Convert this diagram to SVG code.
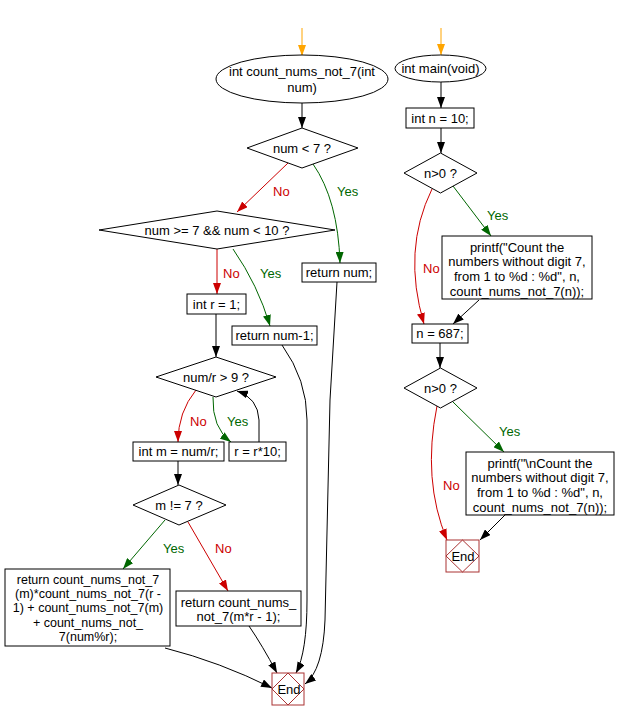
<svg xmlns="http://www.w3.org/2000/svg" width="617" height="721" viewBox="0 0 617 721">
<style>
text{font-family:"Liberation Sans",Arial,sans-serif;font-size:13px;fill:#000}
.n{fill:#fff;stroke:#000;stroke-width:1}
.c{text-anchor:middle}
.s{font-size:12.5px}
.e{fill:#fff;stroke:#a33;stroke-width:1}
.ed{fill:none;stroke:#a33;stroke-width:1}
.k{fill:none;stroke:#000;stroke-width:1;marker-end:url(#ak)}
.r{fill:none;stroke:#c00;stroke-width:1;marker-end:url(#ar)}
.g{fill:none;stroke:#060;stroke-width:1;marker-end:url(#ag)}
.o{fill:none;stroke:#ffa500;stroke-width:1;marker-end:url(#ao)}
.lr{fill:#c00}
.lg{fill:#060}
</style>
<defs>
<marker id="ak" markerUnits="userSpaceOnUse" markerWidth="11" markerHeight="8" refX="11" refY="4" orient="auto"><path d="M0,0 L11,4 L0,8 z" fill="#000"/></marker>
<marker id="ar" markerUnits="userSpaceOnUse" markerWidth="11" markerHeight="8" refX="11" refY="4" orient="auto"><path d="M0,0 L11,4 L0,8 z" fill="#c00"/></marker>
<marker id="ag" markerUnits="userSpaceOnUse" markerWidth="11" markerHeight="8" refX="11" refY="4" orient="auto"><path d="M0,0 L11,4 L0,8 z" fill="#060"/></marker>
<marker id="ao" markerUnits="userSpaceOnUse" markerWidth="11" markerHeight="8" refX="11" refY="4" orient="auto"><path d="M0,0 L11,4 L0,8 z" fill="#ffa500"/></marker>
</defs>

<g id="connectors">
<path class="o" d="M302,28 L302,56"/>
<path class="k" d="M302,103 L302,128"/>
<path class="r" d="M288,163 L237,212"/>
<path class="g" d="M313,164 Q338,200 340,263"/>
<path class="r" d="M217,249 L217,294"/>
<path class="g" d="M233,249 Q258,285 270,326"/>
<path class="k" d="M216,314 L216,357"/>
<path class="r" d="M196,390 Q178,412 178,442"/>
<path class="g" d="M213,397 Q212,428 231,442"/>
<path class="k" d="M259,442 L259,420 Q258,398 237,391"/>
<path class="k" d="M178,461 L178,485"/>
<path class="g" d="M165,520 L123,569"/>
<path class="r" d="M188,522 L228,591"/>
<path class="k" d="M165,648 Q220,662 272,688"/>
<path class="k" d="M249,626 Q262,645 277,673"/>
<path class="k" d="M282,345 Q307,380 307,420 L307,600 Q307,652 296,673"/>
<path class="k" d="M337,282 L330,400 L325,620 Q323,670 305,684"/>

<path class="o" d="M441,28 L441,55"/>
<path class="k" d="M441,82 L441,108"/>
<path class="k" d="M441,128 L441,153"/>
<path class="g" d="M453,186 L491,236"/>
<path class="r" d="M432,189 Q402,250 424,324"/>
<path class="k" d="M479,300 L453,324"/>
<path class="k" d="M440,343 L440,368"/>
<path class="g" d="M453,402 L504,452"/>
<path class="r" d="M437,406 Q422,480 447,540"/>
<path class="k" d="M505,515 L480,540"/>

<text class="lr" x="273" y="196">No</text>
<text class="lg" x="337" y="196">Yes</text>
<text class="lr" x="223" y="278">No</text>
<text class="lg" x="260" y="278">Yes</text>
<text class="lr" x="190" y="426">No</text>
<text class="lg" x="227" y="426">Yes</text>
<text class="lg" x="163" y="553">Yes</text>
<text class="lr" x="215" y="553">No</text>
<text class="lg" x="487" y="220">Yes</text>
<text class="lr" x="423" y="273">No</text>
<text class="lg" x="499" y="436">Yes</text>
<text class="lr" x="443" y="490">No</text>
</g>

<g id="start1">
<ellipse class="n" cx="302" cy="79" rx="86" ry="24"/>
<text class="c" x="302" y="76">int count_nums_not_7(int</text>
<text class="c" x="302" y="92">num)</text>
</g>
<g id="cond1">
<polygon class="n" points="302,128 358,148 302,168 247,148"/>
<text class="c" x="302" y="153">num &lt; 7 ?</text>
</g>
<g id="cond2">
<polygon class="n" points="217,211 335,230 217,249 99,230"/>
<text class="c" x="217" y="235">num &gt;= 7 &amp;&amp; num &lt; 10 ?</text>
</g>
<g id="retnum">
<rect class="n" x="302" y="263" width="74" height="19"/>
<text class="c" x="339" y="277">return num;</text>
</g>
<g id="r1">
<rect class="n" x="187" y="294" width="59" height="20"/>
<text class="c" x="216.5" y="309">int r = 1;</text>
</g>
<g id="retnum1">
<rect class="n" x="232" y="326" width="85" height="19"/>
<text class="c" x="274.5" y="340">return num-1;</text>
</g>
<g id="cond3">
<polygon class="n" points="216,357 276,377 216,397 156,377"/>
<text class="c" x="216" y="382">num/r &gt; 9 ?</text>
</g>
<g id="m">
<rect class="n" x="133" y="442" width="91" height="19"/>
<text class="c" x="178.5" y="456">int m = num/r;</text>
</g>
<g id="r10">
<rect class="n" x="229" y="442" width="57" height="19"/>
<text class="c" x="257.5" y="456">r = r*10;</text>
</g>
<g id="cond4">
<polygon class="n" points="179,485 226,505 179,525 133,505"/>
<text class="c" x="179" y="510">m != 7 ?</text>
</g>
<g id="retbig">
<rect class="n" x="5" y="569" width="165" height="77"/>
<text class="c s" x="88" y="584">return count_nums_not_7</text>
<text class="c s" x="88" y="598">(m)*count_nums_not_7(r -</text>
<text class="c s" x="88" y="612">1) + count_nums_not_7(m)</text>
<text class="c s" x="88" y="627">+ count_nums_not_</text>
<text class="c s" x="88" y="641">7(num%r);</text>
</g>
<g id="retsmall">
<rect class="n" x="176" y="591" width="125" height="35"/>
<text class="c" x="238.5" y="607">return count_nums_</text>
<text class="c" x="238.5" y="621">not_7(m*r - 1);</text>
</g>
<g id="end1">
<rect class="e" x="272" y="673" width="32" height="32"/>
<polygon class="ed" points="288,673 304,689 288,705 272,689"/>
<text class="c" x="289" y="694">End</text>
</g>

<g id="start2">
<ellipse class="n" cx="440.5" cy="68.5" rx="45.5" ry="13.5"/>
<text class="c" x="440.5" y="73">int main(void)</text>
</g>
<g id="n10">
<rect class="n" x="406" y="108" width="68" height="20"/>
<text class="c" x="440" y="123">int n = 10;</text>
</g>
<g id="cond5">
<polygon class="n" points="440.5,153 477,173 440.5,193 404,173"/>
<text class="c" x="440.5" y="178">n&gt;0 ?</text>
</g>
<g id="printf1">
<rect class="n" x="442" y="236" width="150" height="63"/>
<text class="c" x="517" y="252">printf("Count the</text>
<text class="c" x="517" y="266">numbers without digit 7,</text>
<text class="c" x="517" y="281">from 1 to %d : %d", n,</text>
<text class="c" x="517" y="296">count_nums_not_7(n));</text>
</g>
<g id="n687">
<rect class="n" x="412" y="324" width="56" height="19"/>
<text class="c" x="440" y="338">n = 687;</text>
</g>
<g id="cond6">
<polygon class="n" points="440.5,368 477,388 440.5,408 404,388"/>
<text class="c" x="440.5" y="393">n&gt;0 ?</text>
</g>
<g id="printf2">
<rect class="n" x="466" y="452" width="148" height="63"/>
<text class="c" x="540" y="468">printf("\nCount the</text>
<text class="c" x="540" y="482">numbers without digit 7,</text>
<text class="c" x="540" y="497">from 1 to %d : %d", n,</text>
<text class="c" x="540" y="512">count_nums_not_7(n));</text>
</g>
<g id="end2">
<rect class="e" x="446" y="540" width="33" height="32"/>
<polygon class="ed" points="462.5,540 479,556 462.5,572 446,556"/>
<text class="c" x="463" y="561">End</text>
</g>
</svg>
